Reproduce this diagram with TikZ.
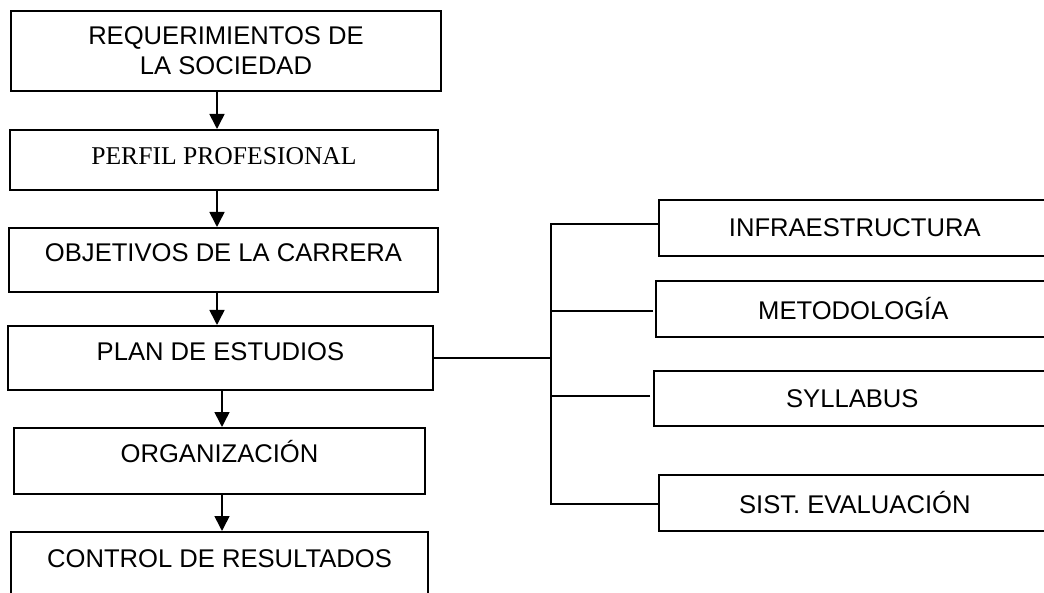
\documentclass[tikz,border=0pt]{standalone}
\usepackage{fontspec}
\setmainfont{Liberation Sans}
\newfontfamily\fcserif{Liberation Serif}
\usepackage{xcolor}
\definecolor{fcink}{HTML}{000000}
\usetikzlibrary{arrows.meta,positioning}
\tikzset{
  fcbox/.style  ={rectangle, draw=fcink, line width=1.6pt, inner xsep=0pt, inner ysep=0pt,
                  align=center, font=\fontsize{25.6}{30}\selectfont, text=fcink, anchor=north},
  fcside/.style ={fcbox, anchor=west, minimum height=56pt},
  fcarrow/.style={-{Triangle[length=15pt,width=15pt]}, line width=1.6pt, draw=fcink},
  fclink/.style ={line width=1.6pt, draw=fcink},
}

\begin{document}
\begin{tikzpicture}[x=1pt,y=-1pt]
  \useasboundingbox (0,0) rectangle (1044,593);
  \clip (0,0) rectangle (1044,593);
  % main chain
  \node[fcbox, minimum width=430pt, minimum height=80pt] (req) at (226,10) {REQUERIMIENTOS DE\\LA SOCIEDAD};
  \node[fcbox, minimum width=428pt, text height=35pt, text depth=25pt] (perfil) at (224,129) {\fcserif PERFIL PROFESIONAL};
  \node[fcbox, minimum width=429pt, text height=34pt, text depth=30pt] (obj) at (223.5,227) {OBJETIVOS DE LA CARRERA};
  \node[fcbox, minimum width=425pt, text height=35pt, text depth=29pt] (plan) at (220.5,325) {PLAN DE ESTUDIOS};
  \node[fcbox, minimum width=411pt, text height=35pt, text depth=31pt] (org) at (219.5,427) {ORGANIZACIÓN};
  \node[fcbox, minimum width=417pt, text height=36pt, text depth=40pt] (ctrl) at (219.5,531) {CONTROL DE RESULTADOS};
  \coordinate (axA) at (217,0);
  \coordinate (axB) at (222,0);
  \draw[fcarrow] (req.south -| axA) -- (perfil.north -| axA);
  \draw[fcarrow] (perfil.south -| axA) -- (obj.north -| axA);
  \draw[fcarrow] (obj.south -| axA) -- (plan.north -| axA);
  \draw[fcarrow] (plan.south -| axB) -- (org.north -| axB);
  \draw[fcarrow] (org.south -| axB) -- (ctrl.north -| axB);
  % side boxes
  \node[fcside, minimum width=392pt] (infra) at (658,228) {INFRAESTRUCTURA};
  \node[fcside, minimum width=395pt] (meto) at (655,309) {METODOLOGÍA};
  \node[fcside, minimum width=397pt, minimum height=55pt] (syll) at (653,398.5) {SYLLABUS};
  \node[fcside, minimum width=392pt] (sist) at (658,503) {SIST. EVALUACIÓN};
  \coordinate (busT) at (551,224);
  \coordinate (busB) at (551,504);
  \path ([yshift=-2pt]meto.west) coordinate (metoIn);
  \path ([yshift=2.5pt]syll.west) coordinate (syllIn);
  \draw[fclink] (plan.east) -- (plan.east -| busT);
  \draw[fclink] ([yshift=4pt]infra.west) -- (busT) -- (busB) -- ([yshift=-1pt]sist.west);
  \draw[fclink, shorten <=2pt] (metoIn) -- (metoIn -| busT);
  \draw[fclink, shorten <=3pt] (syllIn) -- (syllIn -| busT);
\end{tikzpicture}
\end{document}
